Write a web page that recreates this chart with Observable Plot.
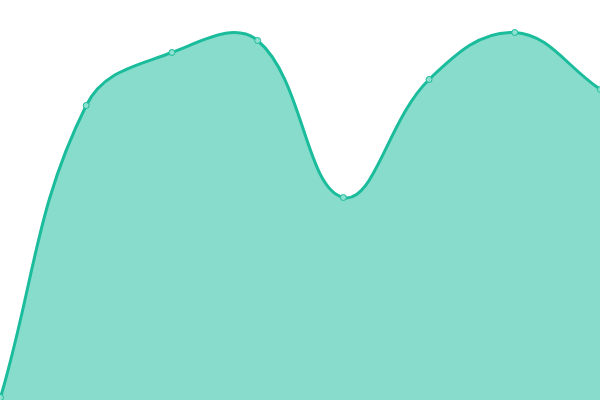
<!DOCTYPE html>
<html>
<head>
<meta charset="utf-8">
<script src="https://cdn.jsdelivr.net/npm/d3@7"></script>
<script src="https://cdn.jsdelivr.net/npm/@observablehq/plot@0.6"></script>
<style>
  html, body { margin: 0; padding: 0; background: #fff; }
  svg { display: block; }
</style>
</head>
<body>
<div id="chart"></div>
<script>
const indices = [0, 1, 2, 3, 4, 5, 6, 7];
const values = [3, 295, 348, 360, 203, 321, 368, 311];

const data = indices.map((i, k) => ({x: i, y: values[k]}));

const W = 600, H = 400, TENSION = 0.4;

// Spline with distance-weighted tangents (tension 0.4), control points kept inside the plot area
function SplineCurve(context) { this._context = context; }
SplineCurve.prototype = {
  areaStart() { this._line = 0; },
  areaEnd() { this._line = NaN; },
  lineStart() { this._pts = []; },
  point(x, y) { this._pts.push([+x, +y]); },
  lineEnd() {
    const p = this._pts, n = p.length, c = this._context;
    if (n) {
      if (this._line) c.lineTo(p[0][0], p[0][1]); else c.moveTo(p[0][0], p[0][1]);
      const clampX = v => Math.max(0, Math.min(W, v));
      const clampY = v => Math.max(0, Math.min(H, v));
      const cps = p.map((cur, i) => {
        const prev = i > 0 ? p[i - 1] : cur;
        const next = i < n - 1 ? p[i + 1] : cur;
        const d01 = Math.hypot(cur[0] - prev[0], cur[1] - prev[1]);
        const d12 = Math.hypot(next[0] - cur[0], next[1] - cur[1]);
        let s01 = d01 / (d01 + d12), s12 = d12 / (d01 + d12);
        if (isNaN(s01)) s01 = 0;
        if (isNaN(s12)) s12 = 0;
        const fa = TENSION * s01, fb = TENSION * s12;
        return {
          pv: [clampX(cur[0] - fa * (next[0] - prev[0])), clampY(cur[1] - fa * (next[1] - prev[1]))],
          nx: [clampX(cur[0] + fb * (next[0] - prev[0])), clampY(cur[1] + fb * (next[1] - prev[1]))]
        };
      });
      for (let i = 1; i < n; ++i) {
        const a = cps[i - 1].nx, b = cps[i].pv;
        c.bezierCurveTo(a[0], a[1], b[0], b[1], p[i][0], p[i][1]);
      }
    }
    if (this._line || (this._line !== 0 && n === 1)) c.closePath();
    this._line = 1 - this._line;
  }
};
const spline = context => new SplineCurve(context);

const chart = Plot.plot({
  width: W,
  height: H,
  margin: 0,
  x: {domain: [0, 7], axis: null},
  y: {domain: [0, 400], axis: null},
  marks: [
    Plot.areaY(data, {x: "x", y: "y", curve: spline, fill: "#1abc9c", fillOpacity: 0.52}),
    Plot.lineY(data, {x: "x", y: "y", curve: spline, stroke: "#1abc9c", strokeWidth: 3}),
    Plot.dot(data, {x: "x", y: "y", r: 3, fill: "#8ee0cf", stroke: "#1abc9c", strokeWidth: 1})
  ]
});
document.getElementById("chart").appendChild(chart);
</script>
</body>
</html>
